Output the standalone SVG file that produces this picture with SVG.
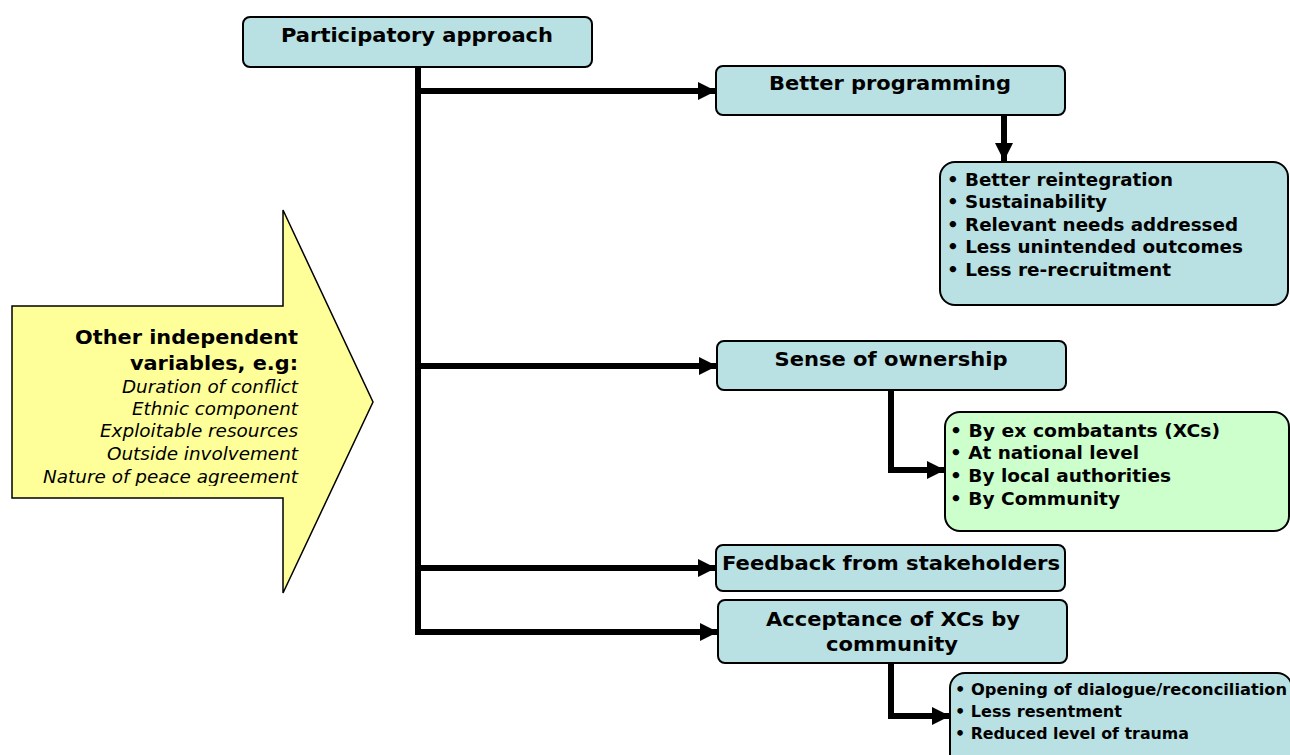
<svg xmlns="http://www.w3.org/2000/svg" width="1290" height="755" viewBox="0 0 1290 755">
<style>
.box{fill:#b9e0e2;stroke:#000;stroke-width:2}
.green{fill:#ccffcc;stroke:#000;stroke-width:2}
.t{font-family:Verdana,"DejaVu Sans",sans-serif;font-weight:bold;font-size:20px;fill:#000;text-anchor:middle}
.b{font-family:Verdana,"DejaVu Sans",sans-serif;font-weight:bold;font-size:17px;fill:#000}
.s{font-family:Verdana,"DejaVu Sans",sans-serif;font-weight:bold;font-size:15px;fill:#000}
.y{font-family:Verdana,"DejaVu Sans",sans-serif;font-weight:bold;font-size:20px;fill:#000;text-anchor:end}
.i{font-family:Verdana,"DejaVu Sans",sans-serif;font-style:italic;font-size:17px;fill:#000;text-anchor:end}
.c{fill:none;stroke:#000;stroke-width:6}
</style>
<defs>
<marker id="ah" markerUnits="userSpaceOnUse" markerWidth="18" markerHeight="18" refX="18" refY="9" orient="auto">
<path d="M0,0 L18,9 L0,18 Z" fill="#000"/>
</marker>
<clipPath id="yclip"><rect x="0" y="200" width="400" height="286"/></clipPath>
</defs>
<rect width="1290" height="755" fill="#fff"/>

<g id="other-variables">
<path d="M12,306 L283,306 L283,210 L373,402 L283,593 L283,498 L12,498 Z" fill="#ffff99" stroke="#000" stroke-width="1.5"/>
<g clip-path="url(#yclip)">
<text class="y" x="298" y="344" textLength="223" lengthAdjust="spacingAndGlyphs">Other independent</text>
<text class="y" x="298" y="370" textLength="168" lengthAdjust="spacingAndGlyphs">variables, e.g:</text>
<text class="i" x="298" y="393" textLength="176" lengthAdjust="spacingAndGlyphs">Duration of conflict</text>
<text class="i" x="298" y="415" textLength="166" lengthAdjust="spacingAndGlyphs">Ethnic component</text>
<text class="i" x="298" y="437" textLength="198" lengthAdjust="spacingAndGlyphs">Exploitable resources</text>
<text class="i" x="298" y="460" textLength="191" lengthAdjust="spacingAndGlyphs">Outside involvement</text>
<text class="i" x="298" y="483" textLength="255" lengthAdjust="spacingAndGlyphs">Nature of peace agreement</text>
</g>
</g>

<g id="connectors">
<path class="c" d="M418,67 L418,635"/>
<path class="c" d="M415,91 L716,91" marker-end="url(#ah)"/>
<path class="c" d="M1004,115 L1004,161" marker-end="url(#ah)"/>
<path class="c" d="M415,366 L717,366" marker-end="url(#ah)"/>
<path class="c" d="M891,390 L891,470 L945,470" marker-end="url(#ah)"/>
<path class="c" d="M415,568 L716,568" marker-end="url(#ah)"/>
<path class="c" d="M415,632 L718,632" marker-end="url(#ah)"/>
<path class="c" d="M891,663 L891,716 L950,716" marker-end="url(#ah)"/>
</g>

<g id="participatory-approach">
<rect class="box" x="243" y="17" width="349" height="50" rx="7"/>
<text class="t" x="417" y="42" textLength="272" lengthAdjust="spacingAndGlyphs">Participatory approach</text>
</g>

<g id="better-programming">
<rect class="box" x="716" y="66" width="349" height="49" rx="7"/>
<text class="t" x="890" y="90" textLength="242" lengthAdjust="spacingAndGlyphs">Better programming</text>
</g>

<g id="programming-outcomes">
<rect class="box" x="940" y="162" width="348" height="143" rx="15"/>
<text class="b" x="947" y="186" textLength="226" lengthAdjust="spacingAndGlyphs">• Better reintegration</text>
<text class="b" x="947" y="208" textLength="160" lengthAdjust="spacingAndGlyphs">• Sustainability</text>
<text class="b" x="947" y="231" textLength="291" lengthAdjust="spacingAndGlyphs">• Relevant needs addressed</text>
<text class="b" x="947" y="253" textLength="296" lengthAdjust="spacingAndGlyphs">• Less unintended outcomes</text>
<text class="b" x="947" y="276" textLength="224" lengthAdjust="spacingAndGlyphs">• Less re-recruitment</text>
</g>

<g id="sense-of-ownership">
<rect class="box" x="717" y="341" width="349" height="49" rx="7"/>
<text class="t" x="891" y="366" textLength="233" lengthAdjust="spacingAndGlyphs">Sense of ownership</text>
</g>

<g id="ownership-outcomes">
<rect class="green" x="945" y="412" width="344" height="119" rx="15"/>
<text class="b" x="950" y="437" textLength="270" lengthAdjust="spacingAndGlyphs">• By ex combatants (XCs)</text>
<text class="b" x="950" y="459" textLength="189" lengthAdjust="spacingAndGlyphs">• At national level</text>
<text class="b" x="950" y="482" textLength="221" lengthAdjust="spacingAndGlyphs">• By local authorities</text>
<text class="b" x="950" y="505" textLength="170" lengthAdjust="spacingAndGlyphs">• By Community</text>
</g>

<g id="feedback">
<rect class="box" x="716" y="545" width="349" height="46" rx="7"/>
<text class="t" x="891" y="570" textLength="338" lengthAdjust="spacingAndGlyphs">Feedback from stakeholders</text>
</g>

<g id="acceptance">
<rect class="box" x="718" y="600" width="349" height="63" rx="7"/>
<text class="t" x="893" y="626" textLength="254" lengthAdjust="spacingAndGlyphs">Acceptance of XCs by</text>
<text class="t" x="892" y="651" textLength="132" lengthAdjust="spacingAndGlyphs">community</text>
</g>

<g id="acceptance-outcomes">
<rect class="box" x="950" y="673" width="342" height="100" rx="15"/>
<text class="s" x="955" y="695" textLength="332" lengthAdjust="spacingAndGlyphs">• Opening of dialogue/reconciliation</text>
<text class="s" x="955" y="717" textLength="167" lengthAdjust="spacingAndGlyphs">• Less resentment</text>
<text class="s" x="955" y="739" textLength="234" lengthAdjust="spacingAndGlyphs">• Reduced level of trauma</text>
</g>
</svg>
